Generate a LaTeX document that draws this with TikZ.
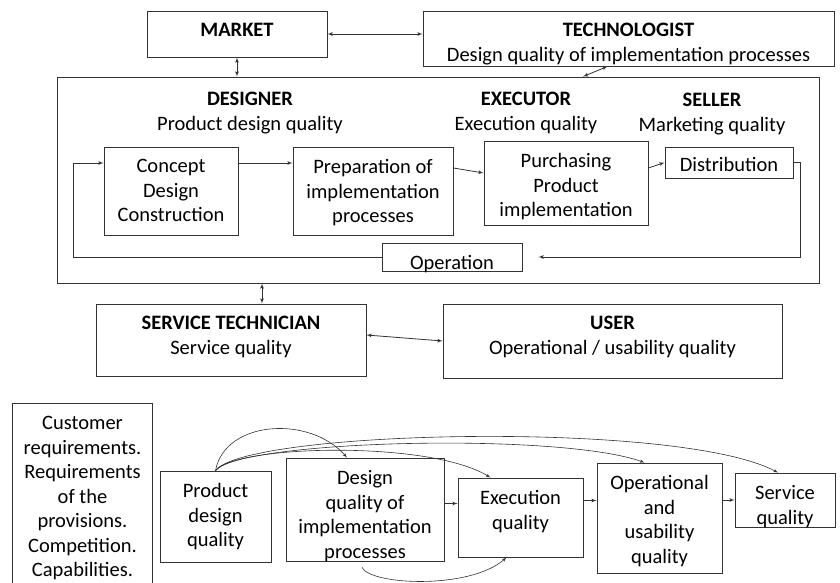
\documentclass[tikz,border=0pt]{standalone}
\usepackage{fontspec}
\setmainfont{Carlito}
\usepackage{xcolor}
\usepackage{tikz}
\usetikzlibrary {positioning}
\usetikzlibrary{arrows}
\tikzset{edge/.style = {->,> = latex'}}
\tikzset{dedge/.style = {<->,> = latex'}}

\begin{document}
\begin{tikzpicture}[x=1pt,y=-1pt,line width=0.8pt,draw=black!80,
    font=\fontsize{20.5}{24.5}\selectfont,
    box/.style 2 args={draw,minimum width=#1,minimum height=#2,inner sep=0pt},
    ttl/.style={anchor=north,align=center,inner sep=0pt},
    lbl/.style={ttl,yshift=-12.5pt}]
            \useasboundingbox (0,0) rectangle (840,583);
            % actors
            \node[box={180}{46},label={[lbl]north:\textbf{MARKET}}] (market) at (237,34) {};
            \node[box={411}{55},label={[lbl]north:{\textbf{TECHNOLOGIST}\\Design quality of implementation processes}}] (tech) at (628.5,38.5) {};
            \node[box={762}{206}] (org) at (438,180) {};
            \node[ttl] (designer) at (250,92) {\textbf{DESIGNER}\\Product design quality};
            \node[ttl] (executor) at (526,92) {\textbf{EXECUTOR}\\Execution quality};
            \node[ttl] (seller) at (712,93) {\textbf{SELLER}\\Marketing quality};
            \node[box={134}{88},label={[lbl]north:{Concept\\Design\\Construction}}] (concept) at (171,191) {};
            \node[box={160}{88},label={[lbl]north:{Preparation of\\implementation\\processes}}] (prep) at (373,191) {};
            \node[box={164}{84},label={[lbl]north:{Purchasing\\Product\\implementation}}] (purch) at (566,183) {};
            \node[box={128}{31},label={[lbl,yshift=2pt]north:Distribution}] (distr) at (729,162.5) {};
            \node[box={140}{28},label={[lbl]north:Operation}] (oper) at (452,257) {};
            \node[box={270}{72},label={[lbl]north:{\textbf{SERVICE TECHNICIAN}\\Service quality}}] (servtech) at (231,340) {};
            \node[box={339}{74},label={[lbl]north:{\textbf{USER}\\Operational / usability quality}}] (user) at (612.5,341) {};
            % qualities
            \node[box={139}{180},draw=none,label={[lbl]north:{Customer\\requirements.\\Requirements\\of the\\provisions.\\Competition.\\Capabilities.}}] (req) at (82.5,494) {};
            \node[box={111}{91},label={[lbl]north:{Product\\design\\quality}}] (pdq) at (215.5,516.5) {};
            \node[box={158}{103},label={[lbl]north:{Design\\quality of\\implementation\\processes}}] (dq) at (365,509.5) {};
            \node[box={125}{79},label={[lbl]north:{Execution\\quality}}] (exq) at (520.5,517.5) {};
            \node[box={125}{110},label={[lbl]north:{Operational\\and\\usability\\quality}}] (opq) at (659.5,518) {};
            \node[box={100}{54},label={[lbl]north:{Service\\quality}}] (svq) at (785,500) {};
            \draw (req.south west) |- (req.north east) -- (req.south east);

            \draw[dedge] (market.east) -- (market.east -| tech.west);
            \draw[dedge] (market.south) -- (market.south |- org.north);
            \draw[dedge] ([xshift=-21]tech.south) -- ([xshift=145]org.north);
            \draw[dedge] ([xshift=31]servtech.north) -- ([xshift=31]servtech.north |- org.south);
            \draw[dedge] ([yshift=5]servtech.east) -- (user.west);
            \draw[edge] ([yshift=28]concept.east) -- ([yshift=28]prep.west);
            \draw[edge] ([yshift=23]prep.east) -- ([yshift=10]purch.west);
            \draw[edge] ([yshift=15]purch.east) -- (distr.west);
            \draw[edge] (distr.east) -- ++(7,0) |- ([xshift=16]oper.east);
            \draw[edge] (oper.west) -- ++(-308,0) |- ([yshift=28]concept.west);

            \draw[edge] ([yshift=6]dq.east) -- ([yshift=6]dq.east -| exq.west);
            \draw[edge] ([yshift=17]exq.east) -- ([yshift=17]exq.east -| opq.west);
            \draw[edge] (svq.west -| opq.east) -- (svq.west);
            \draw[edge,line width=0.6pt] (pdq.north) .. controls (225,420) and (310,415) .. ([xshift=-18]dq.north);
            \draw[edge,line width=0.6pt] (pdq.north) .. controls (235,445) and (430,440) .. ([xshift=-30]exq.north);
            \draw[edge,line width=0.6pt] (pdq.north) .. controls (240,440) and (560,432) .. ([xshift=-15]opq.north);
            \draw[edge,line width=0.6pt] (pdq.north) .. controls (245,430) and (680,420) .. ([xshift=-7]svq.north);
            \draw[edge,line width=0.6pt] ([xshift=-3,yshift=-6]dq.south) .. controls (370,585) and (470,590) .. ([xshift=-14]exq.south);
        \end{tikzpicture}
\end{document}
